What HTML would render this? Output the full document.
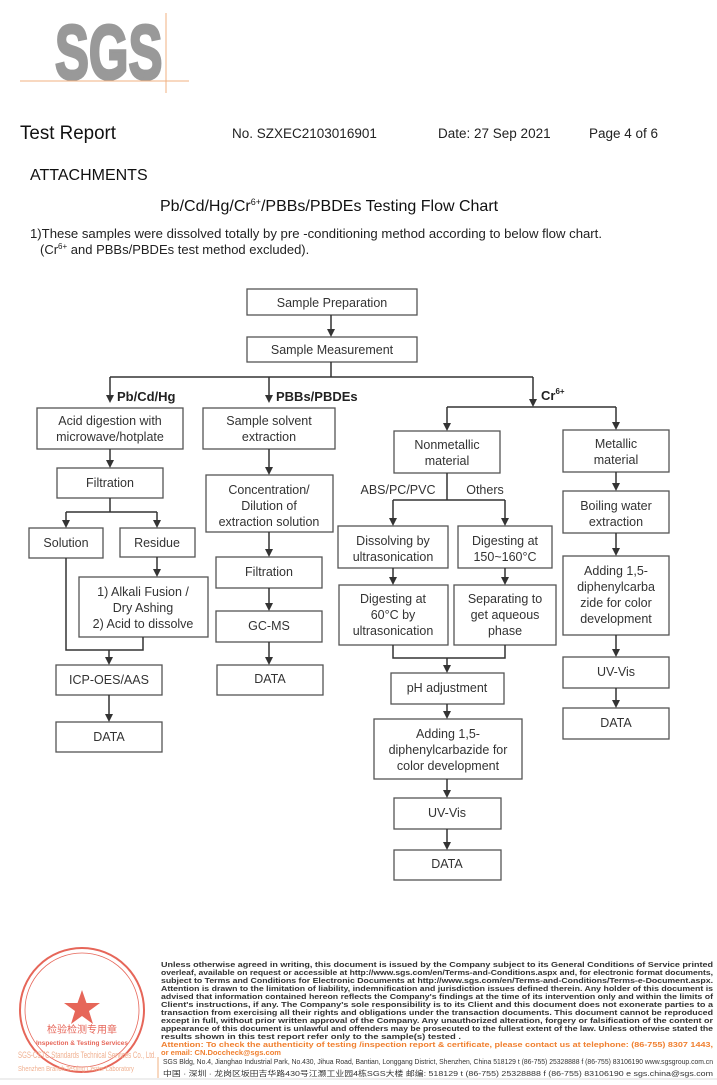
<!DOCTYPE html>
<html><head><meta charset="utf-8"><style>
html,body{margin:0;padding:0;background:#fff;}
body{width:717px;height:1080px;overflow:hidden;position:relative;font-family:"Liberation Sans","Noto Sans CJK SC",sans-serif;}
svg text{font-family:"Liberation Sans","Noto Sans CJK SC",sans-serif;}
</style></head><body>
<svg width="717" height="1080" viewBox="0 0 717 1080" xmlns="http://www.w3.org/2000/svg">
<!-- logo -->
<text x="0" y="0" font-size="77" font-weight="bold" fill="#999" stroke="#999" stroke-width="3" transform="translate(55,79) scale(0.68,1)" textLength="158" lengthAdjust="spacingAndGlyphs">SGS</text>
<line x1="20" y1="81" x2="189" y2="81" stroke="#f0b080" stroke-width="1"/>
<line x1="166" y1="13" x2="166" y2="93" stroke="#f0b080" stroke-width="1"/>
<!-- header -->
<text x="20" y="139" font-size="19" fill="#111" textLength="96" lengthAdjust="spacingAndGlyphs">Test Report</text>
<text x="232" y="138" font-size="13.5" fill="#222">No. SZXEC2103016901</text>
<text x="438" y="138" font-size="13.5" fill="#222">Date: 27 Sep 2021</text>
<text x="589" y="138" font-size="13.5" fill="#222">Page 4 of 6</text>
<text x="30" y="180" font-size="16" fill="#111">ATTACHMENTS</text>
<text x="160" y="211" font-size="16" fill="#111">Pb/Cd/Hg/Cr<tspan font-size="9" dy="-6">6+</tspan><tspan dy="6">/PBBs/PBDEs Testing Flow Chart</tspan></text>
<text x="30" y="238" font-size="13" fill="#222" textLength="572" lengthAdjust="spacingAndGlyphs">1)These samples were dissolved totally by pre -conditioning method according to below flow chart.</text>
<text x="40" y="254" font-size="13" fill="#222">(Cr<tspan font-size="8" dy="-5">6+</tspan><tspan dy="5"> and PBBs/PBDEs  test method excluded).</tspan></text>

<g fill="none" stroke="#555" stroke-width="1.3">
<rect x="247" y="289" width="170" height="26"/>
<rect x="247" y="337" width="170" height="25"/>
<rect x="37" y="408" width="146" height="41"/>
<rect x="57" y="468" width="106" height="30"/>
<rect x="29" y="528" width="74" height="30"/>
<rect x="120" y="528" width="75" height="29"/>
<rect x="79" y="577" width="129" height="60"/>
<rect x="56" y="665" width="106" height="30"/>
<rect x="56" y="722" width="106" height="30"/>
<rect x="203" y="408" width="132" height="41"/>
<rect x="206" y="475" width="127" height="57"/>
<rect x="216" y="557" width="106" height="31"/>
<rect x="216" y="611" width="106" height="31"/>
<rect x="217" y="665" width="106" height="30"/>
<rect x="394" y="431" width="106" height="42"/>
<rect x="563" y="430" width="106" height="42"/>
<rect x="338" y="526" width="110" height="42"/>
<rect x="458" y="526" width="94" height="42"/>
<rect x="339" y="585" width="109" height="60"/>
<rect x="454" y="585" width="102" height="60"/>
<rect x="391" y="673" width="113" height="31"/>
<rect x="374" y="719" width="148" height="60"/>
<rect x="394" y="798" width="107" height="31"/>
<rect x="394" y="850" width="107" height="30"/>
<rect x="563" y="491" width="106" height="42"/>
<rect x="563" y="556" width="106" height="79"/>
<rect x="563" y="657" width="106" height="31"/>
<rect x="563" y="708" width="106" height="31"/>
</g>

<g fill="none" stroke="#333" stroke-width="1.5">
<path d="M331 315V330M331 362V377M110 377H533M110 377V396M269 377V396M533 377V400"/>
<path d="M110 449V461M110 498V512M66 512H157M66 512V521M157 512V521M157 557V570"/>
<path d="M66 558V650H143V637M109 650V657M109 695V715"/>
<path d="M269 449V468M269 532V550M269 588V604M269 642V658"/>
<path d="M447 407H616M447 407V423M616 407V423"/>
<path d="M447 473V500M393 500H505M393 500V519M505 500V519M393 568V578M505 568V578"/>
<path d="M393 645V658H505V645M447 658V666M447 704V712M447 779V791M447 829V843"/>
<path d="M616 472V484M616 533V549M616 635V650M616 688V701"/>
</g>
<g fill="#333">
<path d="M327 329h8l-4 8z"/>
<path d="M106 395h8l-4 8z"/><path d="M265 395h8l-4 8z"/><path d="M529 399h8l-4 8z"/>
<path d="M106 460h8l-4 8z"/><path d="M62 520h8l-4 8z"/><path d="M153 520h8l-4 8z"/><path d="M153 569h8l-4 8z"/>
<path d="M105 657h8l-4 8z"/><path d="M105 714h8l-4 8z"/>
<path d="M265 467h8l-4 8z"/><path d="M265 549h8l-4 8z"/><path d="M265 603h8l-4 8z"/><path d="M265 657h8l-4 8z"/>
<path d="M443 423h8l-4 8z"/><path d="M612 422h8l-4 8z"/>
<path d="M389 518h8l-4 8z"/><path d="M501 518h8l-4 8z"/><path d="M389 577h8l-4 8z"/><path d="M501 577h8l-4 8z"/>
<path d="M443 665h8l-4 8z"/><path d="M443 711h8l-4 8z"/><path d="M443 790h8l-4 8z"/><path d="M443 842h8l-4 8z"/>
<path d="M612 483h8l-4 8z"/><path d="M612 548h8l-4 8z"/><path d="M612 649h8l-4 8z"/><path d="M612 700h8l-4 8z"/>
</g>

<g font-size="12.5" fill="#333" text-anchor="middle">
<text x="332" y="307">Sample Preparation</text>
<text x="332" y="354">Sample Measurement</text>
<text x="110" y="425">Acid digestion with</text><text x="110" y="441">microwave/hotplate</text>
<text x="110" y="487">Filtration</text>
<text x="66" y="547">Solution</text>
<text x="157" y="547">Residue</text>
<text x="143" y="596">1) Alkali Fusion /</text><text x="143" y="612">Dry Ashing</text><text x="143" y="628">2) Acid to dissolve</text>
<text x="109" y="684">ICP-OES/AAS</text>
<text x="109" y="741">DATA</text>
<text x="269" y="425">Sample solvent</text><text x="269" y="441">extraction</text>
<text x="269" y="494">Concentration/</text><text x="269" y="510">Dilution of</text><text x="269" y="526">extraction solution</text>
<text x="269" y="576">Filtration</text>
<text x="269" y="630">GC-MS</text>
<text x="270" y="683">DATA</text>
<text x="447" y="449">Nonmetallic</text><text x="447" y="465">material</text>
<text x="616" y="448">Metallic</text><text x="616" y="464">material</text>
<text x="398" y="494">ABS/PC/PVC</text>
<text x="485" y="494">Others</text>
<text x="393" y="545">Dissolving by</text><text x="393" y="561">ultrasonication</text>
<text x="505" y="545">Digesting at</text><text x="505" y="561">150~160°C</text>
<text x="393" y="603">Digesting at</text><text x="393" y="619">60°C by</text><text x="393" y="635">ultrasonication</text>
<text x="505" y="603">Separating to</text><text x="505" y="619">get aqueous</text><text x="505" y="635">phase</text>
<text x="447" y="692">pH adjustment</text>
<text x="448" y="738">Adding 1,5-</text><text x="448" y="754">diphenylcarbazide for</text><text x="448" y="770">color development</text>
<text x="447" y="817">UV-Vis</text>
<text x="447" y="868">DATA</text>
<text x="616" y="510">Boiling water</text><text x="616" y="526">extraction</text>
<text x="616" y="575">Adding 1,5-</text><text x="616" y="591">diphenylcarba</text><text x="616" y="607">zide for color</text><text x="616" y="623">development</text>
<text x="616" y="676">UV-Vis</text>
<text x="616" y="727">DATA</text>
</g>
<g font-size="13" font-weight="bold" fill="#222">
<text x="117" y="401">Pb/Cd/Hg</text>
<text x="276" y="401">PBBs/PBDEs</text>
<text x="541" y="400">Cr<tspan font-size="8" dy="-6">6+</tspan></text>
</g>

<!-- seal -->
<g opacity="0.8">
<circle cx="82" cy="1010" r="62" fill="none" stroke="#e04030" stroke-width="2"/>
<circle cx="82" cy="1010" r="57" fill="none" stroke="#e04030" stroke-width="0.8"/>
<path d="M82 990l4.5 13h13.5l-11 8 4 13-11-8-11 8 4-13-11-8h13.5z" fill="#e04030"/>
<text x="82" y="1033" font-size="10" fill="#e04030" text-anchor="middle">检验检测专用章</text>
<text x="82" y="1045" font-size="6.5" font-weight="bold" fill="#e04030" text-anchor="middle">Inspection &amp; Testing Services</text>
</g>
<text x="18" y="1058" font-size="9" fill="#f0b090" textLength="138" lengthAdjust="spacingAndGlyphs">SGS-CSTC Standards Technical Services Co., Ltd.</text>
<text x="18" y="1071" font-size="7.5" fill="#f0b090" textLength="116" lengthAdjust="spacingAndGlyphs">Shenzhen Branch Testing Center Laboratory</text>

<!-- footer text -->
<g font-size="7.2" font-weight="bold" fill="#333">
<text x="161" y="967" textLength="552" lengthAdjust="spacingAndGlyphs">Unless otherwise agreed in writing, this document is issued by the Company subject to its General Conditions of Service printed</text>
<text x="161" y="975" textLength="552" lengthAdjust="spacingAndGlyphs">overleaf, available on request or accessible at http://www.sgs.com/en/Terms-and-Conditions.aspx and, for electronic format documents,</text>
<text x="161" y="983" textLength="552" lengthAdjust="spacingAndGlyphs">subject to Terms and Conditions for Electronic Documents at http://www.sgs.com/en/Terms-and-Conditions/Terms-e-Document.aspx.</text>
<text x="161" y="991" textLength="552" lengthAdjust="spacingAndGlyphs">Attention is drawn to the limitation of liability, indemnification and jurisdiction issues defined therein. Any holder of this document is</text>
<text x="161" y="999" textLength="552" lengthAdjust="spacingAndGlyphs">advised that information contained hereon reflects the Company's findings at the time of its intervention only and within the limits of</text>
<text x="161" y="1007" textLength="552" lengthAdjust="spacingAndGlyphs">Client's instructions, if any. The Company's sole responsibility is to its Client and this document does not exonerate parties to a</text>
<text x="161" y="1015" textLength="552" lengthAdjust="spacingAndGlyphs">transaction from exercising all their rights and obligations under the transaction documents. This document cannot be reproduced</text>
<text x="161" y="1023" textLength="552" lengthAdjust="spacingAndGlyphs">except in full, without prior written approval of the Company. Any unauthorized alteration, forgery or falsification of the content or</text>
<text x="161" y="1031" textLength="552" lengthAdjust="spacingAndGlyphs">appearance of this document is unlawful and offenders may be prosecuted to the fullest extent of the law. Unless otherwise stated the</text>
<text x="161" y="1039" textLength="300" lengthAdjust="spacingAndGlyphs">results shown in this test report refer only to the sample(s) tested .</text>
<text x="161" y="1047" fill="#f08030" textLength="552" lengthAdjust="spacingAndGlyphs">Attention: To check the authenticity of testing /inspection report &amp; certificate, please contact us at telephone: (86-755) 8307 1443,</text>
<text x="161" y="1055" fill="#f08030" textLength="120" lengthAdjust="spacingAndGlyphs">or email: CN.Doccheck@sgs.com</text>
</g>
<g font-size="7.5" fill="#333">
<text x="163" y="1064" textLength="550" lengthAdjust="spacingAndGlyphs">SGS Bldg, No.4, Jianghao Industrial Park, No.430, Jihua Road, Bantian, Longgang District, Shenzhen, China 518129   t (86-755) 25328888   f (86-755) 83106190    www.sgsgroup.com.cn</text>
<text x="163" y="1076" textLength="550" lengthAdjust="spacingAndGlyphs">中国 · 深圳 · 龙岗区坂田吉华路430号江灏工业园4栋SGS大楼     邮编: 518129   t (86-755) 25328888   f (86-755) 83106190    e  sgs.china@sgs.com</text>
</g>
<line x1="158" y1="1057" x2="158" y2="1080" stroke="#f0b080" stroke-width="1"/>
<rect x="0" y="1078" width="717" height="2" fill="#eee"/>
</svg>
</body></html>
